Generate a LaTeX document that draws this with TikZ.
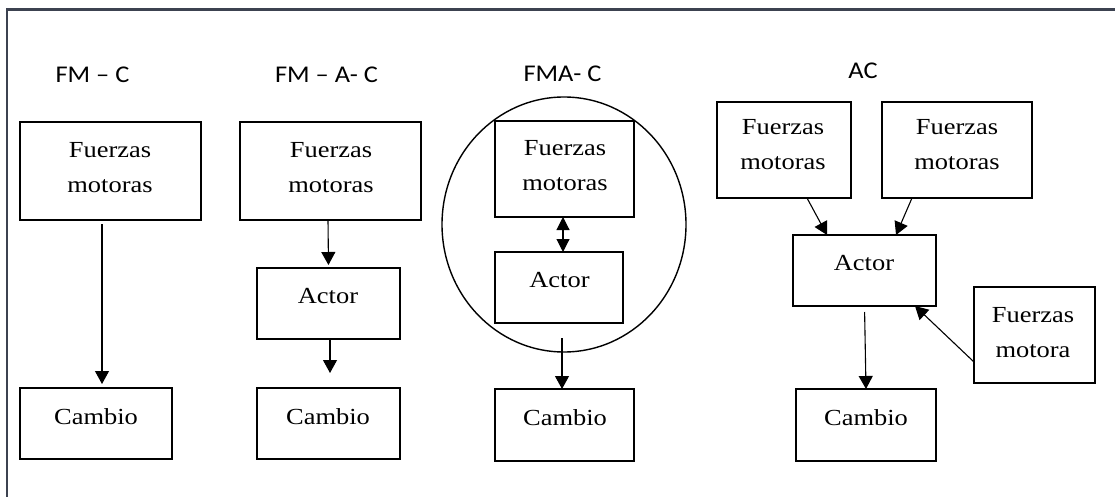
\documentclass[tikz,border=0pt]{standalone}
\usepackage{fontspec}
\setmainfont{Liberation Serif}
\newfontfamily\lblfont{Carlito}
\usetikzlibrary{arrows.meta,shapes.geometric}
\newcommand{\bt}[1]{\scalebox{1.15}[1]{#1}}
\newcommand{\lt}[1]{\scalebox{1.1}[1]{#1}}
\begin{document}
\begin{tikzpicture}[x=1pt,y=-1pt,
  box/.style={draw=black,line width=1.1pt,inner sep=0pt,outer sep=0pt},
  txt/.style={anchor=base,inner sep=0pt,font=\fontsize{23}{35}\selectfont,align=center},
  lbl/.style={anchor=base,inner sep=0pt,font=\lblfont\fontsize{24}{28}\selectfont},
  arr/.style={line width=1.1pt,-{Triangle[length=13pt,width=14pt]}},
  dbl/.style={line width=1.1pt,{Triangle[length=13pt,width=13pt]}-{Triangle[length=13pt,width=13pt]}}]
\useasboundingbox (0,0) rectangle (1115,497);
\definecolor{frame}{RGB}{60,66,80}
\draw[frame,line width=2.4pt] (7,497) -- (7,9.5) -- (1115,9.5);

% labels
\node[lbl] (l1) at (92.5,83) {\lt{FM – C}};
\node[lbl] (l2) at (326.5,83) {\lt{FM – A- C}};
\node[lbl] (l3) at (562.5,82) {\lt{FMA- C}};
\node[lbl] (l4) at (863,79) {\lt{AC}};

% panel 1
\node[box,minimum width=181pt,minimum height=98pt] (p1f) at (110.5,171) {};
\node[txt] (p1ft) at (110,193) {\bt{Fuerzas}\\\bt{motoras}};
\node[box,minimum width=152pt,minimum height=71pt] (p1c) at (96,423.5) {};
\node[txt] (p1ct) at (96,424) {\bt{Cambio}};
\draw[arr,shorten <=4pt,shorten >=4pt] ([xshift=-8.5pt]p1f.south) -- ([xshift=6pt]p1c.north);

% panel 2
\node[box,minimum width=181pt,minimum height=98pt] (p2f) at (330.5,171) {};
\node[txt] (p2ft) at (331,193) {\bt{Fuerzas}\\\bt{motoras}};
\node[box,minimum width=143pt,minimum height=71pt] (p2a) at (328.5,303.5) {};
\node[txt] (p2at) at (328,303) {\bt{Actor}};
\node[box,minimum width=143pt,minimum height=71pt] (p2c) at (328.5,423.5) {};
\node[txt] (p2ct) at (328,424) {\bt{Cambio}};
\draw[arr,shorten <=1pt,shorten >=3pt] ([xshift=-2.5pt]p2f.south) -- (p2a.north);
\draw[arr,shorten >=15pt] ([xshift=1.5pt]p2a.south) -- ([xshift=1.5pt]p2c.north);

% panel 3
\node[ellipse,draw,line width=1.4pt,minimum width=244pt,minimum height=255pt,inner sep=0pt] (p3e) at (564,224.5) {};
\node[box,minimum width=139pt,minimum height=96pt] (p3f) at (564.5,169) {};
\node[txt] (p3ft) at (565,190) {\bt{Fuerzas}\\\bt{motoras}};
\node[box,minimum width=128pt,minimum height=71pt] (p3a) at (559,287.5) {};
\node[txt] (p3at) at (559.5,287) {\bt{Actor}};
\node[box,minimum width=139pt,minimum height=72pt] (p3c) at (564.5,425) {};
\node[txt] (p3ct) at (565,425) {\bt{Cambio}};
\draw[dbl] ([xshift=-1.5pt]p3f.south) -- ([xshift=4pt]p3a.north);
\draw[arr,shorten <=15pt] ([xshift=3pt]p3a.south) -- ([xshift=-2.5pt]p3c.north);

% panel 4
\node[box,minimum width=134pt,minimum height=96pt] (p4f1) at (784,150) {};
\node[txt] (p4f1t) at (783,170) {\bt{Fuerzas}\\\bt{motoras}};
\node[box,minimum width=150pt,minimum height=96pt] (p4f2) at (957,150) {};
\node[txt] (p4f2t) at (957,170) {\bt{Fuerzas}\\\bt{motoras}};
\node[box,minimum width=143pt,minimum height=71pt] (p4a) at (864.5,270.5) {};
\node[txt] (p4at) at (864,270) {\bt{Actor}};
\node[box,minimum width=121pt,minimum height=96pt] (p4f3) at (1034.5,335) {};
\node[txt] (p4f3t) at (1033,357) {\bt{Fuerzas}\\\bt{motora}};
\node[box,minimum width=140pt,minimum height=72pt] (p4c) at (866,425) {};
\node[txt] (p4ct) at (866,425) {\bt{Cambio}};
\draw[arr] ([xshift=23pt]p4f1.south) -- ([xshift=-37.5pt]p4a.north);
\draw[arr] ([xshift=-45pt]p4f2.south) -- ([xshift=31.5pt]p4a.north);
\draw[arr] ([yshift=-27pt]p4f3.west) -- ([xshift=-21pt]p4a.south east);
\draw[arr,shorten <=6pt] (p4a.south) -- (p4c.north);
\end{tikzpicture}
\end{document}
